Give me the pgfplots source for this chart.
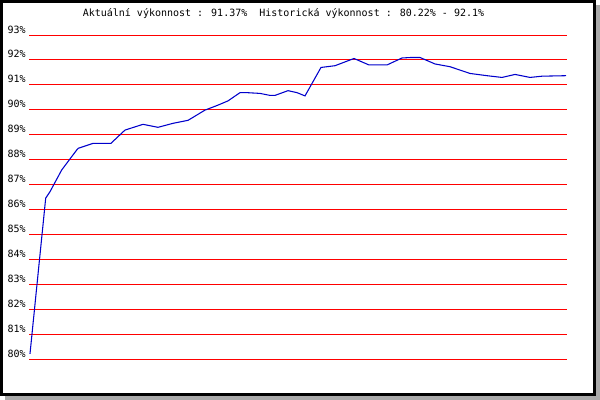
\documentclass[border=0pt]{standalone}
\usepackage{pgfplots}
\pgfplotsset{compat=1.18}
\usepackage{fontspec}
\setmainfont{DejaVu Sans Mono}
\definecolor{shadowgray}{RGB}{169,169,169}
\definecolor{lineblue}{RGB}{0,0,204}
\begin{document}
\begin{tikzpicture}
\path[use as bounding box] (0pt,0pt) rectangle (450pt,300pt);
\fill[shadowgray] (3.75pt,0pt) rectangle (450pt,296.25pt);
\fill[black] (0pt,3pt) rectangle (447pt,300pt);
\fill[white] (1.875pt,5.25pt) rectangle (444.75pt,297.5pt);
\node[anchor=base west, inner sep=0pt, font=\fontsize{7.5pt}{9pt}\selectfont] at (61.9pt,287.5pt) {Aktuální výkonnost : 91.37\%~~Historická výkonnost : 80.22\% - 92.1\%};
\begin{axis}[
  at={(22.125pt,30.525pt)}, anchor=south west,
  scale only axis, width=402.75pt, height=243.2pt,
  xmin=29.5, xmax=566.5, ymin=80, ymax=93,
  enlargelimits=false,
  axis line style={draw=none},
  major tick length=0pt,
  ytick={80,81,...,93},
  ymajorgrids, grid style={red, line width=0.75pt},
  xtick=\empty,
  /pgf/number format/assume math mode=true,
  yticklabel={\pgfmathprintnumber{\tick}\%},
  yticklabel style={anchor=base east, inner sep=0pt, xshift=-2.6pt, yshift=1.5pt, font=\fontsize{7.5pt}{9pt}\selectfont},
  clip=false,
]
\addplot[lineblue, line width=0.8pt, mark=none] coordinates {
(30,80.22) (45.7,86.46) (50,86.72) (61.7,87.59) (76.7,88.39) (78.3,88.46)
(93.3,88.66) (111,88.66) (125,89.19) (143,89.42) (158,89.30) (173,89.46)
(188,89.58) (205,89.99) (218,90.19) (228,90.36) (240,90.69) (247,90.69)
(260,90.66) (270,90.58) (275,90.58) (288,90.77) (297,90.69) (305,90.56)
(321,91.70) (335,91.77) (354,92.06) (369,91.80) (387,91.80) (402,92.08)
(411,92.10) (420,92.10) (435,91.84) (450,91.73) (470,91.46) (487,91.37)
(502,91.30) (515,91.42) (530,91.30) (542,91.35) (566,91.37)
};
\end{axis}
\end{tikzpicture}
\end{document}
